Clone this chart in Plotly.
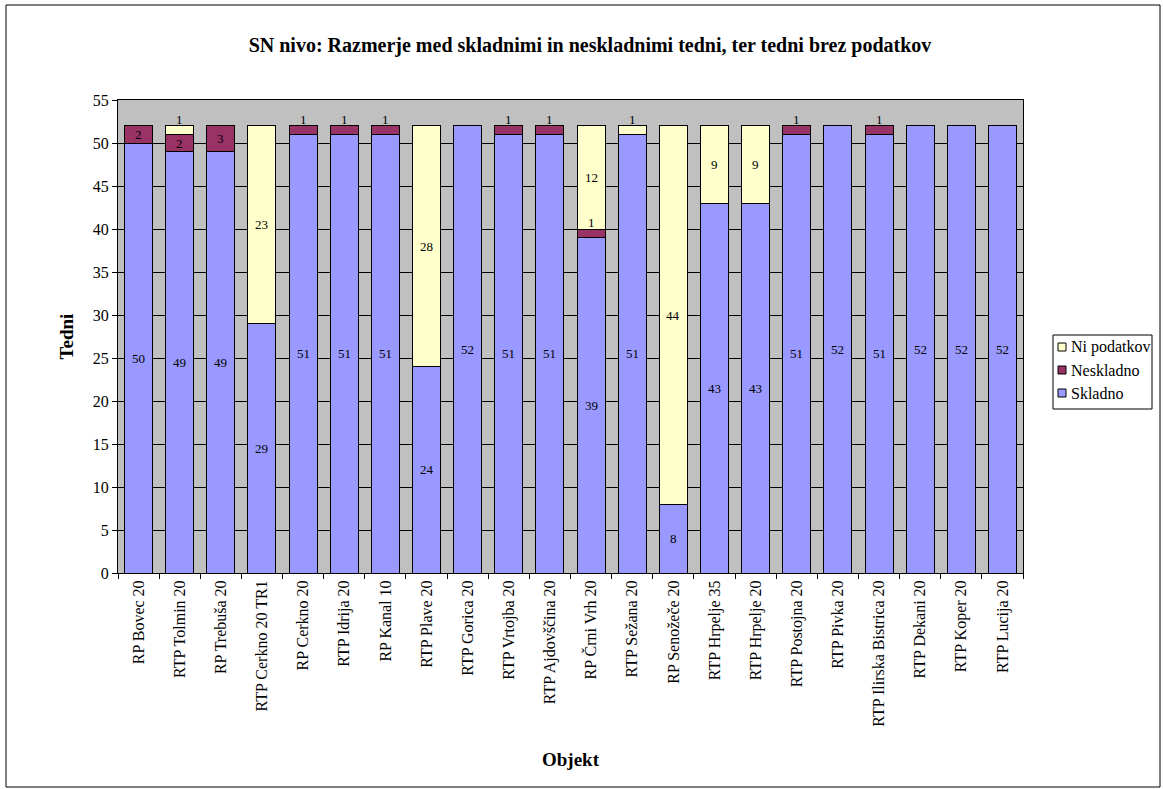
import plotly.graph_objects as go

categories = ["RP Bovec 20", "RTP Tolmin 20", "RP Trebuša 20", "RTP Cerkno 20 TR1",
              "RP Cerkno 20", "RTP Idrija 20", "RP Kanal 10", "RTP Plave 20",
              "RTP Gorica 20", "RTP Vrtojba 20", "RTP Ajdovščina 20", "RP Črni Vrh 20",
              "RTP Sežana 20", "RP Senožeče 20", "RTP Hrpelje 35", "RTP Hrpelje 20",
              "RTP Postojna 20", "RTP Pivka 20", "RTP Ilirska Bistrica 20", "RTP Dekani 20",
              "RTP Koper 20", "RTP Lucija 20"]
skladno = [50, 49, 49, 29, 51, 51, 51, 24, 52, 51, 51, 39, 51, 8, 43, 43, 51, 52, 51, 52, 52, 52]
neskladno = [2, 2, 3, 0, 1, 1, 1, 0, 0, 1, 1, 1, 0, 0, 0, 0, 1, 0, 1, 0, 0, 0]
ni_podatkov = [0, 1, 0, 23, 0, 0, 0, 28, 0, 0, 0, 12, 1, 44, 9, 9, 0, 0, 0, 0, 0, 0]
y_ticks = list(range(0, 56, 5))

series = [("Skladno", skladno, "#9999FF"),
          ("Neskladno", neskladno, "#993366"),
          ("Ni podatkov", ni_podatkov, "#FFFFCC")]

FONT = "Liberation Serif, Times New Roman, serif"
W, H = 1163, 789
L, R, T, B = 118, 1023, 100, 573

fig = go.Figure()
for name, vals, col in series:
    fig.add_trace(go.Bar(x=categories, y=vals, name=name, showlegend=False,
                         marker=dict(color=col, line=dict(color="black", width=1))))

annotations = []
base = [0] * len(categories)
for name, vals, col in series:
    for i, v in enumerate(vals):
        if v > 0:
            if v >= 2:
                annotations.append(dict(x=categories[i], y=base[i] + v / 2, text=str(v),
                                        showarrow=False, xref="x", yref="y",
                                        font=dict(family=FONT, size=13, color="black")))
            else:
                annotations.append(dict(x=categories[i], y=base[i] + v, text=str(v),
                                        showarrow=False, xref="x", yref="y", yanchor="bottom",
                                        yshift=-3,
                                        font=dict(family=FONT, size=13, color="black")))
        base[i] += v

pw, ph = R - L, B - T
def px(x):
    return (x - L) / pw
def py(y):
    return (B - y) / ph

shapes = [dict(type="rect", xref="paper", yref="paper",
               x0=px(6), x1=px(1160), y0=py(5), y1=py(787),
               line=dict(color="black", width=1), fillcolor="rgba(0,0,0,0)", layer="below")]

# custom legend (box, swatches, labels)
LX0, LX1, LY0, LY1 = 1053, 1152, 335, 409
shapes.append(dict(type="rect", xref="paper", yref="paper",
                   x0=px(LX0), x1=px(LX1), y0=py(LY0), y1=py(LY1),
                   line=dict(color="black", width=1), fillcolor="white"))
for k, (name, vals, col) in enumerate(reversed(series)):
    yc = 347 + 23 * k
    shapes.append(dict(type="rect", xref="paper", yref="paper",
                       x0=px(1058), x1=px(1066), y0=py(yc - 4), y1=py(yc + 4),
                       line=dict(color="black", width=1), fillcolor=col))
    annotations.append(dict(x=px(1069), y=py(yc), xref="paper", yref="paper",
                            text=name, showarrow=False, xanchor="left", yanchor="middle",
                            font=dict(family=FONT, size=16, color="black")))

fig.update_layout(
    width=W, height=H,
    margin=dict(l=L, r=W - R, t=T, b=H - B, autoexpand=False),
    paper_bgcolor="white", plot_bgcolor="#C0C0C0",
    barmode="stack", bargap=0.32,
    font=dict(family=FONT, size=16, color="black"),
    title=dict(text="<b>SN nivo: Razmerje med skladnimi in neskladnimi tedni, ter tedni brez podatkov</b>",
               x=590 / W, xanchor="center", y=1 - 45 / H, yanchor="middle",
               font=dict(family=FONT, size=20, color="black")),
    xaxis=dict(tickangle=-90, tickfont=dict(family=FONT, size=16), showline=True,
               linecolor="black", linewidth=1, ticks="outside", ticklen=5, tickcolor="black",
               tickson="boundaries", mirror=True,
               title=dict(text="<b>Objekt</b>", font=dict(family=FONT, size=19), standoff=26)),
    yaxis=dict(range=[0, 55], tickvals=y_ticks, tickfont=dict(family=FONT, size=16),
               showgrid=True, gridcolor="black", gridwidth=1, showline=True,
               linecolor="black", linewidth=1, ticks="outside", ticklen=5, tickcolor="black",
               mirror=True, zeroline=False,
               title=dict(text="<b>Tedni</b>", font=dict(family=FONT, size=19), standoff=14)),
    annotations=annotations,
    shapes=shapes,
    showlegend=False,
)

fig.write_html("out.html", config={"displayModeBar": False},
               post_script="document.body.style.margin='0';")
